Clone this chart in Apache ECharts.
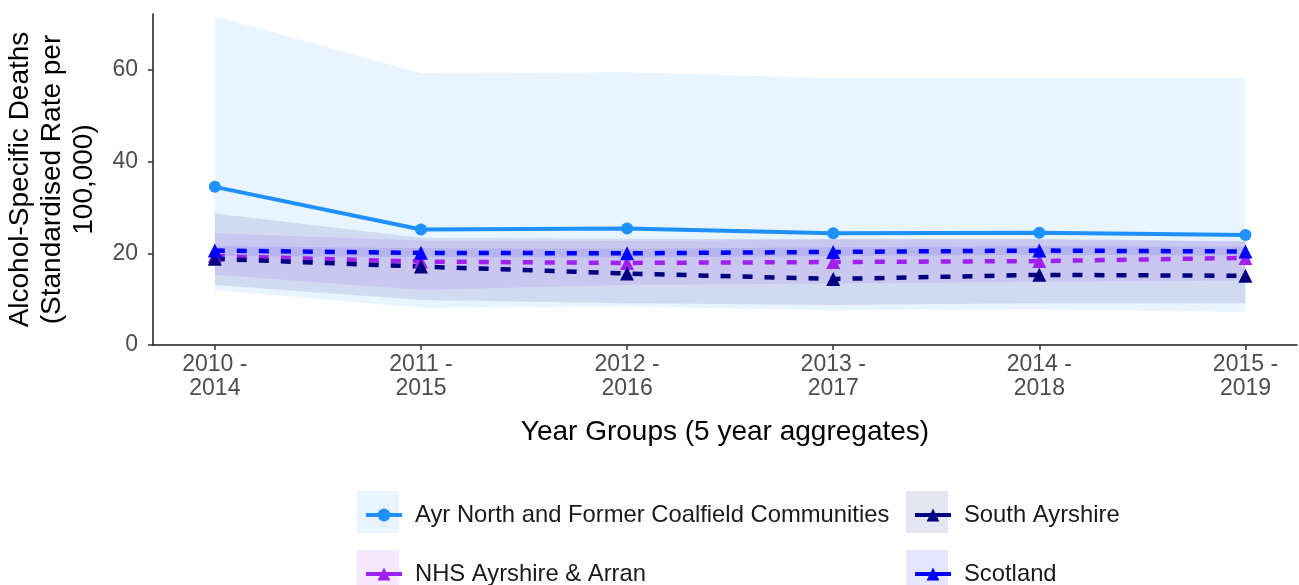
<!DOCTYPE html>
<html>
<head>
<meta charset="utf-8">
<script src="https://cdn.jsdelivr.net/npm/echarts@6/dist/echarts.min.js"></script>
<style>
  html, body { margin: 0; padding: 0; background: #fff; }
  #chart { width: 1299px; height: 585px; }
</style>
</head>
<body>
<div id="chart"></div>
<script>
'use strict';

const yearGroups = ['2010 -\n2014', '2011 -\n2015', '2012 -\n2016', '2013 -\n2017', '2014 -\n2018', '2015 -\n2019'];
const yTicks = [0, 20, 40, 60];

const ayrRate = [34.5, 25.2, 25.4, 24.4, 24.5, 24.0];
const ayrLow = [12.0, 8.1, 8.4, 7.6, 7.8, 7.2];
const ayrHigh = [71.7, 59.3, 59.5, 58.2, 58.2, 58.2];

const nhsRate = [19.4, 18.2, 17.9, 18.1, 18.3, 19.0];
const nhsLow = [15.3, 12.0, 13.1, 13.4, 13.8, 14.0];
const nhsHigh = [24.4, 22.8, 22.7, 23.0, 23.0, 22.5];

const southRate = [18.8, 17.1, 15.6, 14.4, 15.3, 15.1];
const southLow = [13.1, 9.8, 9.1, 8.7, 9.1, 9.1];
const southHigh = [28.7, 23.4, 23.2, 23.1, 23.1, 22.7];

const scotRate = [20.6, 20.1, 20.0, 20.3, 20.6, 20.4];
const scotLow = [19.4, 19.2, 19.1, 19.4, 19.7, 19.5];
const scotHigh = [21.6, 21.1, 21.0, 21.3, 21.6, 21.4];

const FONT = 'Liberation Sans';
const myChart = echarts.init(document.getElementById('chart'));

const groups = [
  { name: 'Ayr North and Former Coalfield Communities', color: '#1E90FF', rate: ayrRate, low: ayrLow, high: ayrHigh, symbol: 'circle', dash: 'solid', key: [357, 491] },
  { name: 'NHS Ayrshire & Arran', color: '#A020F0', rate: nhsRate, low: nhsLow, high: nhsHigh, symbol: 'triangle', dash: [10, 12], key: [357, 550] },
  { name: 'South Ayrshire', color: '#000080', rate: southRate, low: southLow, high: southHigh, symbol: 'triangle', dash: [10, 12], key: [906, 491] },
  { name: 'Scotland', color: '#0000FF', rate: scotRate, low: scotLow, high: scotHigh, symbol: 'triangle', dash: [10, 12], key: [906, 550] },
];

const pairs = (arr) => arr.map((v, i) => [i, v]);

// confidence ribbons, one polygon per area
const bands = groups.map((g) => ({
  name: g.name + ' band',
  type: 'custom',
  silent: true,
  data: g.low.map((v, i) => [i, v, g.high[i]]),
  encode: { x: 0, y: [1, 2] },
  renderItem: (params, api) => {
    if (params.dataIndex !== 0) return null;
    const upper = g.high.map((v, i) => api.coord([i, v]));
    const lower = g.low.map((v, i) => api.coord([i, v])).reverse();
    return {
      type: 'polygon',
      shape: { points: upper.concat(lower) },
      style: { fill: g.color, opacity: 0.1 },
    };
  },
}));

const lines = groups.map((g) => ({
  name: g.name,
  type: 'line',
  data: pairs(g.rate),
  symbol: g.symbol,
  symbolSize: g.symbol === 'circle' ? 12 : 14,
  itemStyle: { color: g.color },
  lineStyle: { color: g.color, width: g.dash === 'solid' ? 4 : 4.5, type: g.dash, cap: 'butt' },
}));

const legends = groups.map((g) => ({
  data: [g.name],
  left: g.key[0] + 2,
  top: g.key[1] + 6,
  itemWidth: 36,
  itemHeight: 16,
  selectedMode: false,
  lineStyle: { type: 'solid', width: 4 },
  textStyle: { fontFamily: FONT, fontSize: 23.8, color: '#1a1a1a', lineHeight: 26, padding: [0, 0, 0, 8] },
}));

const keyBoxes = groups.map((g) => ({
  type: 'rect', left: g.key[0], top: g.key[1], z: -1,
  shape: { width: 42, height: 42 },
  style: { fill: g.color, opacity: 0.1 },
}));

const option = {
  animation: false,
  textStyle: { fontFamily: FONT },
  grid: { left: 153, right: 2, top: 14, bottom: 240, outerBoundsMode: 'none', containLabel: false },
  graphic: keyBoxes,
  legend: legends,
  xAxis: {
    type: 'value',
    min: -0.3,
    max: 5.25,
    splitLine: { show: false },
    axisLine: { onZero: false, lineStyle: { color: '#1a1a1a', width: 1.5 } },
    axisTick: { show: true, length: 5, lineStyle: { color: '#333', width: 1.5 }, customValues: yearGroups.map((_, i) => i) },
    axisLabel: {
      customValues: yearGroups.map((_, i) => i),
      formatter: (v) => yearGroups[v],
      fontSize: 23, lineHeight: 24, color: '#4d4d4d', margin: 8,
    },
    name: 'Year Groups (5 year aggregates)',
    nameLocation: 'middle',
    nameGap: 73,
    nameMoveOverlap: false,
    nameTextStyle: { fontSize: 28, color: '#000' },
  },
  yAxis: {
    type: 'value',
    min: 0,
    max: 72.2,
    interval: 20,
    splitLine: { show: false },
    axisLine: { show: true, onZero: false, lineStyle: { color: '#1a1a1a', width: 1.5 } },
    axisTick: { show: true, length: 5, lineStyle: { color: '#333', width: 1.5 }, customValues: yTicks },
    axisLabel: { customValues: yTicks, fontSize: 23, color: '#4d4d4d', margin: 15 },
    name: 'Alcohol-Specific Deaths\n(Standardised Rate per\n100,000)',
    nameLocation: 'middle',
    nameRotate: 90,
    nameGap: 53,
    nameMoveOverlap: false,
    nameTextStyle: { fontSize: 28, color: '#000', lineHeight: 32 },
  },
  series: bands.concat(lines),
};

myChart.setOption(option);
</script>
</body>
</html>
